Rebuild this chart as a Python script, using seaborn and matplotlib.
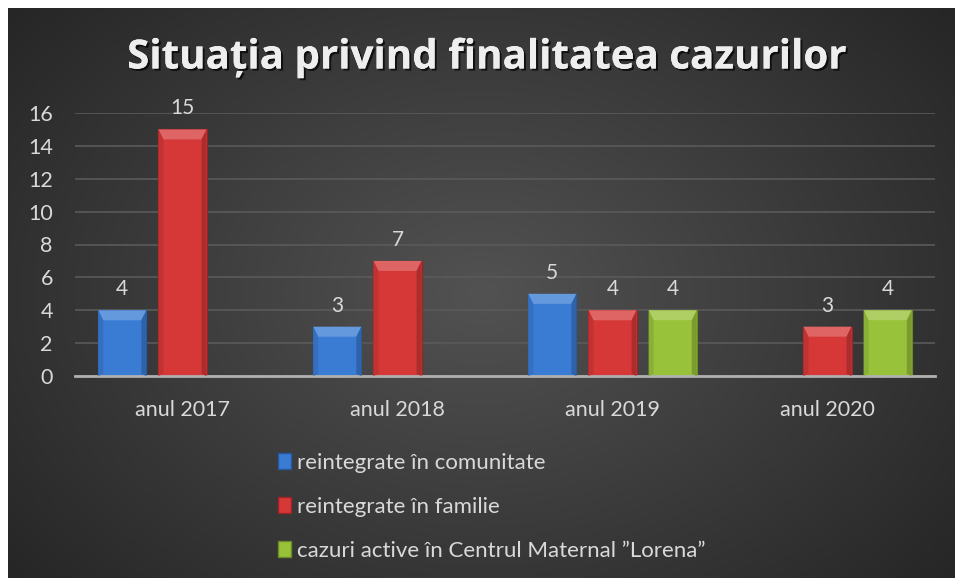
import numpy as np
import pandas as pd
import matplotlib
matplotlib.use("Agg")
import matplotlib.pyplot as plt
import matplotlib.patheffects as pe
from matplotlib.patches import Polygon
from matplotlib.colors import to_rgb
import seaborn as sns

# Chart data
categories = ["anul 2017", "anul 2018", "anul 2019", "anul 2020"]
series = ["reintegrate în comunitate", "reintegrate în familie",
          "cazuri active în Centrul Maternal ”Lorena”"]
comunitate = [4, 3, 5, np.nan]
familie = [15, 7, 4, 3]
active = [np.nan, np.nan, 4, 4]
y_ticks = [0, 2, 4, 6, 8, 10, 12, 14, 16]

colors = ["#3a7cd4", "#d63838", "#98c23a"]
edge_colors = ["#24599f", "#9a2424", "#6a8a24"]
text_col = "#d9d9d9"

df = pd.DataFrame({
    "an": categories * 3,
    "serie": [series[0]] * 4 + [series[1]] * 4 + [series[2]] * 4,
    "valoare": comunitate + familie + active,
})

sns.set_style("dark")
plt.rcParams["font.family"] = ["Lato", "DejaVu Sans"]

fig = plt.figure(figsize=(9.55, 5.78), dpi=100)
fig.patch.set_facecolor("white")

# radial gradient background
bg = fig.add_axes([8 / 955, 0, 947 / 955, 570 / 578])
yy, xx = np.mgrid[0:1:300j, 0:1:500j]
r = np.sqrt(((xx - 0.5) / 0.75) ** 2 + ((yy - 0.5) / 0.9) ** 2)
bg.imshow(np.clip(r, 0, 1), cmap=matplotlib.colors.LinearSegmentedColormap.from_list(
    "bg", ["#525252", "#262626"]), aspect="auto", extent=[0, 1, 0, 1])
bg.axis("off")

ax = fig.add_axes([75 / 955, 202 / 578, 860 / 955, 263 / 578])
ax.set_facecolor("none")
sns.barplot(data=df, x="an", y="valoare", hue="serie", hue_order=series,
            order=categories, palette=colors, width=0.84, gap=0.2,
            saturation=1, ax=ax, legend=True)

ax.set_ylim(0, 16)
ax.set_yticks(y_ticks)


def shade(c, f):
    c = np.array(to_rgb(c))
    return tuple(np.clip(c * f if f < 1 else c + (1 - c) * (f - 1), 0, 1))


# soft bevel look + value labels
inv = fig.transFigure.inverted()
for cont, col, ec in zip(ax.containers, colors, edge_colors):
    for bar in cont:
        h = bar.get_height()
        if np.isnan(h) or h == 0:
            continue
        bar.set_edgecolor(ec)
        bar.set_linewidth(0.8)
        bb = bar.get_window_extent()
        x0, x1, y0, y1 = bb.x0, bb.x1, bb.y0, bb.y1
        bt, bs = 10, 5
        polys = [
            ([(x0, y1), (x1, y1), (x1 - bs, y1 - bt), (x0 + bs, y1 - bt)], shade(col, 1.22)),
            ([(x0, y1), (x0 + bs, y1 - bt), (x0 + bs, y0 + 2), (x0, y0)], shade(col, 0.9)),
            ([(x1, y1), (x1 - bs, y1 - bt), (x1 - bs, y0 + 2), (x1, y0)], shade(col, 0.8)),
        ]
        for p, fc in polys:
            fig.add_artist(Polygon(inv.transform(p), closed=True, facecolor=fc,
                                   edgecolor="none", transform=fig.transFigure, zorder=3))
    labels = ["" if np.isnan(v) else f"{v:.0f}" for v in cont.datavalues]
    ax.bar_label(cont, labels=labels, padding=8, color=text_col, fontsize=15)

ax.set_xlabel(None)
ax.set_ylabel(None)
ax.grid(axis="y", color="#5a5a5a", linewidth=1.2)
ax.grid(axis="x", visible=False)
for s in ["top", "left", "right"]:
    ax.spines[s].set_visible(False)
ax.spines["bottom"].set_color("#b0b0b0")
ax.spines["bottom"].set_linewidth(2)
ax.tick_params(axis="x", colors=text_col, labelsize=15.5, pad=17, length=0)
ax.tick_params(axis="y", colors=text_col, labelsize=15.5, pad=16, length=0)

ax.get_legend().remove()
handles = [plt.Rectangle((0, 0), 1, 1, facecolor=c, edgecolor=e)
           for c, e in zip(colors, edge_colors)]
leg = fig.legend(handles, series, loc="upper left",
                 bbox_to_anchor=(258 / 955, 1 - 433 / 578), frameon=False,
                 fontsize=16, handlelength=0.6, handleheight=0.7,
                 handletextpad=0.25, labelspacing=1.08)
for t in leg.get_texts():
    t.set_color(text_col)

fig.text(0.509, 1 - 58 / 578, "Situația privind finalitatea cazurilor",
         ha="center", va="center", fontsize=29, fontweight="bold",
         color="#eeeeee", family=["Open Sans", "DejaVu Sans"],
         path_effects=[pe.withSimplePatchShadow(offset=(1.5, -1.5),
                                                shadow_rgbFace="black", alpha=0.7),
                       pe.Normal()])

fig.savefig("out.png", dpi=100)
